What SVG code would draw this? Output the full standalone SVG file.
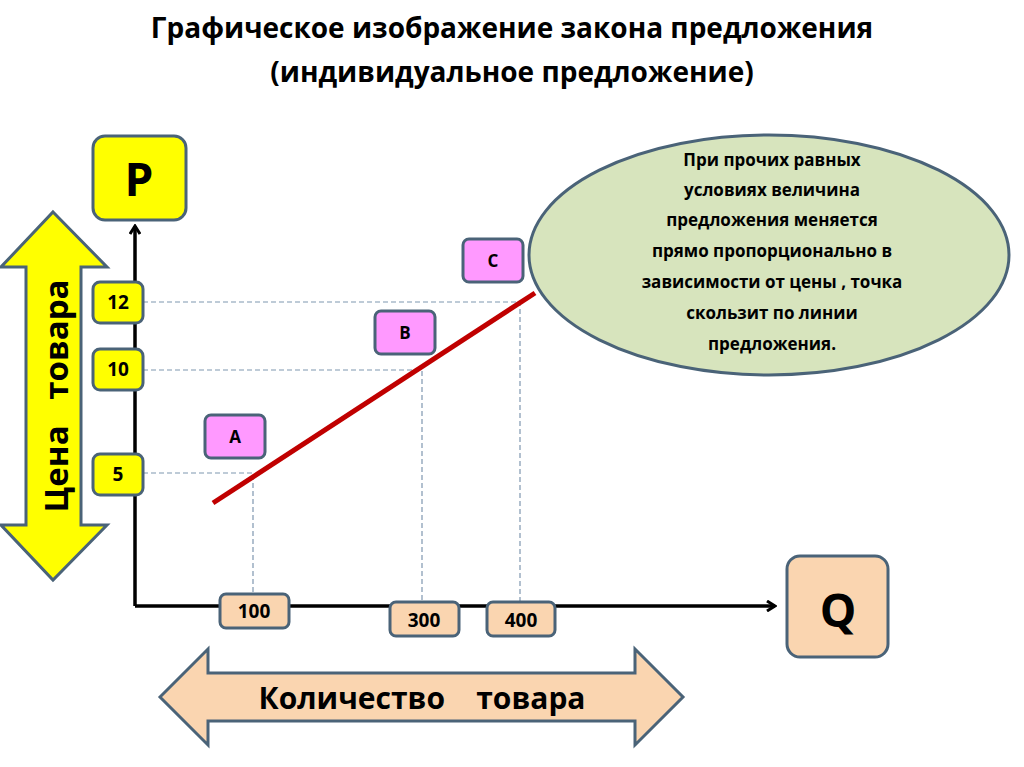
<svg xmlns="http://www.w3.org/2000/svg" width="1024" height="767" viewBox="0 0 1024 767">
<style>
text{font-family:"Open Sans","Liberation Sans",sans-serif;font-weight:bold;fill:#000;white-space:pre}
.y{fill:#ffff00;stroke:#4a6378;stroke-width:3}
.o{fill:#fad5b0;stroke:#4a6378;stroke-width:3}
.m{fill:#ff99ff;stroke:#4a6378;stroke-width:3}
.d{stroke:#7f97b0;stroke-width:1.2;stroke-dasharray:5 3;fill:none}
.s{font-size:19px;text-anchor:middle}
</style>
<defs><marker id="ar" markerWidth="12" markerHeight="12" refX="10" refY="6" orient="auto" markerUnits="userSpaceOnUse"><path d="M2,1 L10,6 L2,11" fill="none" stroke="#000" stroke-width="3"/></marker></defs>
<rect width="1024" height="767" fill="#fff"/>
<text x="512" y="38" font-size="28" text-anchor="middle" fill="#222">Графическое изображение закона предложения</text>
<text x="512" y="82" font-size="28" text-anchor="middle">(индивидуальное предложение)</text>
<g id="priceArrow"><path class="y" d="M53,212 L107,267 L81,267 L81,525 L107,525 L53,580 L1,525 L26,525 L26,267 L1,267 Z"/>
<text transform="translate(68,396) rotate(-90)" font-size="33" text-anchor="middle" xml:space="preserve">Цена   товара</text></g>
<g id="qtyArrow"><path class="o" d="M160,697 L208,649 L208,673 L635,673 L635,649 L683,697 L635,745 L635,721 L208,721 L208,745 Z"/>
<text x="422" y="709" font-size="30" text-anchor="middle" xml:space="preserve">Количество    товара</text></g>
<g id="connectors">
<line x1="135" y1="606" x2="135" y2="226" stroke="#000" stroke-width="3.5" marker-end="url(#ar)"/>
<line x1="135" y1="606" x2="775" y2="606" stroke="#000" stroke-width="3.5" marker-end="url(#ar)"/>
<path class="d" d="M143,302 H520 V603 M143,370 H422 V603 M143,473 H253 V600"/>
<line x1="213" y1="503" x2="535" y2="293" stroke="#c00000" stroke-width="5"/>
</g>
<g id="P"><rect class="y" x="93" y="136" width="93" height="84" rx="12"/><text x="139" y="196" font-size="46" text-anchor="middle">P</text></g>
<g id="Q"><rect class="o" x="787" y="556" width="101" height="101" rx="13"/><text x="838" y="627" font-size="46" text-anchor="middle">Q</text></g>
<g id="p12"><rect class="y" x="93" y="282" width="50" height="41" rx="7"/><text class="s" x="118" y="309">12</text></g>
<g id="p10"><rect class="y" x="93" y="349" width="50" height="41" rx="7"/><text class="s" x="118" y="376">10</text></g>
<g id="p5"><rect class="y" x="93" y="454" width="50" height="41" rx="7"/><text class="s" x="118" y="481">5</text></g>
<g id="q100"><rect class="o" x="220" y="594" width="69" height="34" rx="6"/><text class="s" x="254" y="618">100</text></g>
<g id="q300"><rect class="o" x="390" y="602" width="69" height="34" rx="6"/><text class="s" x="424" y="627">300</text></g>
<g id="q400"><rect class="o" x="487" y="602" width="68" height="34" rx="6"/><text class="s" x="521" y="627">400</text></g>
<g id="A"><rect class="m" x="205" y="415" width="60" height="43" rx="6"/><text x="235" y="443" font-size="17" text-anchor="middle">A</text></g>
<g id="B"><rect class="m" x="375" y="311" width="60" height="43" rx="6"/><text x="405" y="339" font-size="17" text-anchor="middle">B</text></g>
<g id="C"><rect class="m" x="463" y="239" width="60" height="43" rx="6"/><text x="493" y="267" font-size="17" text-anchor="middle">C</text></g>
<g id="note"><ellipse cx="769" cy="255" rx="240" ry="120" fill="#d7e4bd" stroke="#4a6378" stroke-width="3"/>
<g font-size="17" text-anchor="middle">
<text x="772" y="166">При прочих равных</text>
<text x="772" y="196">условиях величина</text>
<text x="772" y="226">предложения меняется</text>
<text x="772" y="257">прямо пропорционально в</text>
<text x="772" y="288">зависимости от цены , точка</text>
<text x="772" y="319">скользит по линии</text>
<text x="772" y="350">предложения.</text></g></g>
</svg>
